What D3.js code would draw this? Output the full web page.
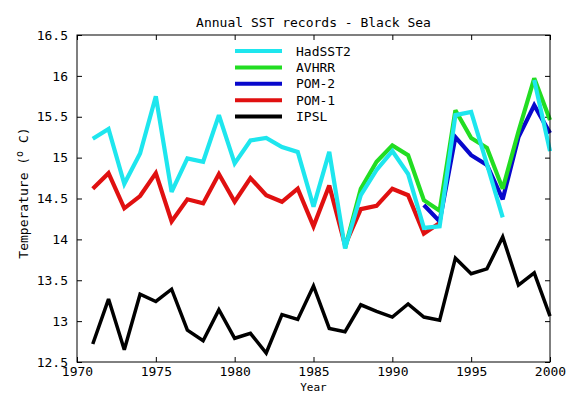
<!DOCTYPE html>
<html><head><meta charset="utf-8">
<script src="https://cdn.jsdelivr.net/npm/d3@7"></script>
<style>body{margin:0;background:#fff}svg{display:block}text{font-family:"DejaVu Sans Mono",monospace;fill:#000}</style>
</head><body><svg id="c" width="572" height="394"></svg>
<script>
const years = d3.range(1971, 2001);
const hadsst2 = [15.23,15.35,14.68,15.05,15.75,14.58,14.99,14.95,15.52,14.93,15.21,15.24,15.13,15.07,14.40,15.07,13.89,14.54,14.85,15.08,14.80,14.14,14.16,15.52,15.56,14.92,14.27,null,15.95,15.08];
const avhrr = [null,null,null,null,null,null,null,null,null,null,null,null,null,null,null,null,13.89,14.62,14.95,15.15,15.03,14.48,14.35,15.58,15.24,15.12,14.62,15.32,15.97,15.46];
const pom2 = [null,null,null,null,null,null,null,null,null,null,null,null,null,null,null,null,null,null,null,null,null,14.42,14.22,15.25,15.03,14.91,14.49,15.25,15.64,15.30];
const pom1 = [14.62,14.81,14.38,14.53,14.81,14.22,14.49,14.44,14.80,14.46,14.75,14.54,14.46,14.62,14.16,14.66,13.93,14.37,14.41,14.62,14.54,14.07,14.20,null,null,null,null,null,null,null];
const ipsl = [12.72,13.27,12.65,13.33,13.24,13.39,12.89,12.76,13.14,12.79,12.85,12.61,13.08,13.02,13.43,12.91,12.87,13.20,13.12,13.05,13.21,13.05,13.01,13.77,13.58,13.64,14.03,13.44,13.59,13.06];
const seriesNames = ["HadSST2","AVHRR","POM-2","POM-1","IPSL"];
const seriesValues = [hadsst2, avhrr, pom2, pom1, ipsl];
const seriesColors = ["#1ee6ee","#22dd22","#0808cc","#e01010","#000000"];
const xTicks = [1970,1975,1980,1985,1990,1995,2000];
const yTicks = [12.5,13,13.5,14,14.5,15,15.5,16,16.5];

const svg = d3.select("#c");
const L=77, R=550, T=35, B=362;
const x = d3.scaleLinear().domain([1970,2000]).range([L,R]);
const y = d3.scaleLinear().domain([12.5,16.5]).range([B,T]);

const fmt = d => String(d);
svg.append("g").attr("transform",`translate(0,${B})`)
  .call(d3.axisBottom(x).tickValues(xTicks).tickFormat(fmt).tickSizeInner(-5).tickSizeOuter(0).tickPadding(5))
  .call(g=>{g.select(".domain").remove(); g.selectAll("text").attr("font-size",13).attr("font-family","DejaVu Sans Mono");});
svg.append("g").attr("transform",`translate(0,${T})`)
  .call(d3.axisTop(x).tickValues(xTicks).tickFormat("").tickSizeInner(-5).tickSizeOuter(0))
  .call(g=>g.select(".domain").remove());
svg.append("g").attr("transform",`translate(${L},0)`)
  .call(d3.axisLeft(y).tickValues(yTicks).tickFormat(fmt).tickSizeInner(-5).tickSizeOuter(0).tickPadding(9))
  .call(g=>{g.select(".domain").remove(); g.selectAll("text").attr("font-size",13).attr("font-family","DejaVu Sans Mono");});
svg.append("g").attr("transform",`translate(${R},0)`)
  .call(d3.axisRight(y).tickValues(yTicks).tickFormat("").tickSizeInner(-5).tickSizeOuter(0))
  .call(g=>g.select(".domain").remove());
svg.selectAll(".tick line").attr("stroke","#000");

const line = d3.line().defined(d=>d[1]!=null).x(d=>x(d[0])).y(d=>y(d[1]));
const order = [4,3,2,1,0];
order.forEach(i=>{
  svg.append("path").datum(years.map((yr,k)=>[yr,seriesValues[i][k]]))
    .attr("fill","none").attr("stroke",seriesColors[i])
    .attr("stroke-width", i===4?3.5:4.2).attr("stroke-linejoin","miter").attr("stroke-miterlimit",3)
    .attr("d",line);
});

svg.append("rect").attr("x",L).attr("y",T).attr("width",R-L).attr("height",B-T)
  .attr("fill","none").attr("stroke","#000").attr("stroke-width",1);

const lg = svg.append("g");
seriesNames.forEach((n,i)=>{
  const yy = 51 + i*16.4;
  lg.append("line").attr("x1",235).attr("x2",282).attr("y1",yy).attr("y2",yy)
    .attr("stroke",seriesColors[i]).attr("stroke-width",4);
  lg.append("text").attr("x",296).attr("y",yy+4.5).attr("font-size",13).text(n);
});

svg.append("text").attr("x",(L+R)/2).attr("y",27).attr("text-anchor","middle").attr("font-size",13)
  .text("Annual SST records - Black Sea");
svg.append("text").attr("x",(L+R)/2).attr("y",391).attr("text-anchor","middle").attr("font-size",11).text("Year");
const yl = svg.append("text").attr("transform","translate(28,193) rotate(-90)").attr("text-anchor","middle").attr("font-size",13);
yl.append("tspan").text("Temperature (");
yl.append("tspan").attr("dy",-5).attr("font-size",10).text("o");
yl.append("tspan").attr("dy",5).text(" C)");
</script></body></html>
